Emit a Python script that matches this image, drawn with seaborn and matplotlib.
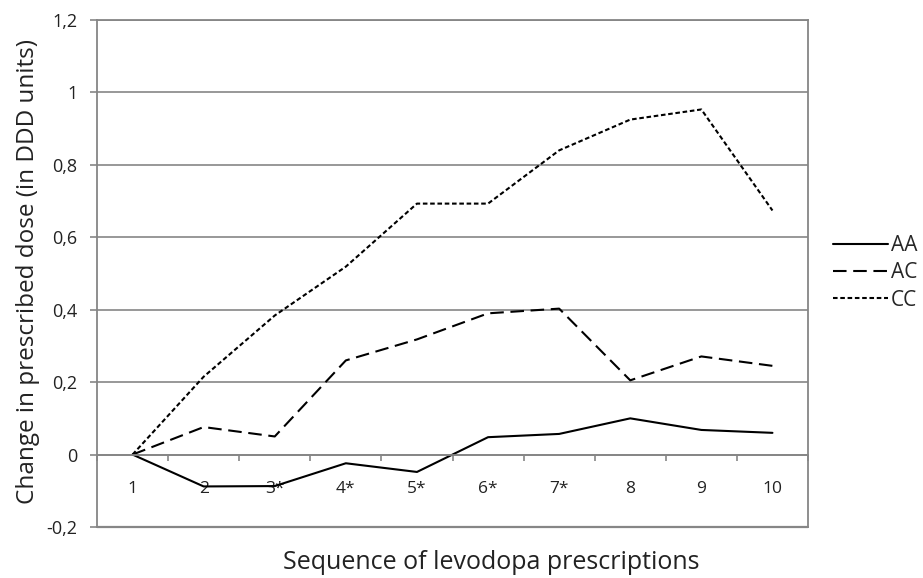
import matplotlib
matplotlib.use("Agg")
import matplotlib.pyplot as plt
import seaborn as sns
import pandas as pd
import numpy as np
from matplotlib.ticker import FixedLocator

categories = ["1", "2", "3*", "4*", "5*", "6*", "7*", "8", "9", "10"]
AA = [0, -0.088, -0.087, -0.024, -0.048, 0.048, 0.057, 0.100, 0.068, 0.060]
AC = [0, 0.076, 0.050, 0.260, 0.318, 0.390, 0.403, 0.205, 0.271, 0.245]
CC = [0, 0.215, 0.384, 0.519, 0.693, 0.693, 0.840, 0.925, 0.953, 0.674]
yticks = [-0.2, 0, 0.2, 0.4, 0.6, 0.8, 1.0, 1.2]
yticklabels = ["-0,2", "0", "0,2", "0,4", "0,6", "0,8", "1", "1,2"]

series = {"AA": AA, "AC": AC, "CC": CC}
rows = []
for name, vals in series.items():
    for i, v in enumerate(vals):
        rows.append({"pos": i, "cat": categories[i], "value": v, "group": name})
df = pd.DataFrame(rows)

sns.set_theme(style="white")
plt.rcParams["font.family"] = ["Open Sans", "DejaVu Sans"]

fig = plt.figure(figsize=(9.23, 5.78), dpi=100)
ax = fig.add_axes([97/923, 1-527/578, 711/923, 507/578])

grey = "#868686"
txt = "#222222"
sns.lineplot(data=df, x="pos", y="value", hue="group", style="group",
             palette={"AA": "black", "AC": "black", "CC": "black"},
             dashes={"AA": "", "AC": (6.5, 3.2), "CC": (2.2, 1.3)},
             linewidth=1.5, ax=ax, legend=True)

ax.set_xlim(-0.5, 9.5)
ax.set_ylim(-0.2, 1.2)
ax.set_yticks(yticks)
ax.set_yticklabels(yticklabels, fontsize=13)
ax.yaxis.grid(True, color=grey, linewidth=1.2)
ax.xaxis.grid(False)
ax.set_axisbelow(True)

for s in ["left", "right", "top", "bottom"]:
    ax.spines[s].set_color(grey)
    ax.spines[s].set_linewidth(1.3)
    ax.spines[s].set_visible(True)
ax.spines["bottom"].set_position(("data", 0))
ax.axhline(-0.2, color=grey, linewidth=1.6, clip_on=False, zorder=0)

ax.set_xticks(range(len(categories)))
ax.set_xticklabels(categories, fontsize=12.5)
ax.xaxis.set_minor_locator(FixedLocator(np.arange(-0.5, 10, 1.0)))
ax.tick_params(axis="x", which="major", length=0, pad=19, labelcolor=txt)
ax.tick_params(axis="x", which="minor", length=4, width=1.2, color=grey, direction="out", bottom=True)
ax.tick_params(axis="y", which="major", length=5, width=1.2, color=grey, direction="out",
               left=True, labelcolor=txt, pad=9)

ax.set_xlabel("Sequence of levodopa prescriptions", fontsize=18, color=txt)
ax.set_ylabel("Change in prescribed dose (in DDD units)", fontsize=17.5, color=txt)
ax.xaxis.set_label_coords((491-97)/711, (527-550)/507)
ax.yaxis.set_label_coords((40-97)/711, 1-(272-20)/507)

handles, labels = ax.get_legend_handles_labels()
ax.get_legend().remove()
leg = fig.legend(handles, labels, loc="center left", bbox_to_anchor=(833/923, 1-273/578),
                 frameon=False, fontsize=15, handlelength=2.65, handletextpad=0.12,
                 borderpad=0, borderaxespad=0, labelspacing=0.3)
for l in leg.get_lines():
    l.set_linewidth(1.5)

fig.savefig("out.png", dpi=100)
